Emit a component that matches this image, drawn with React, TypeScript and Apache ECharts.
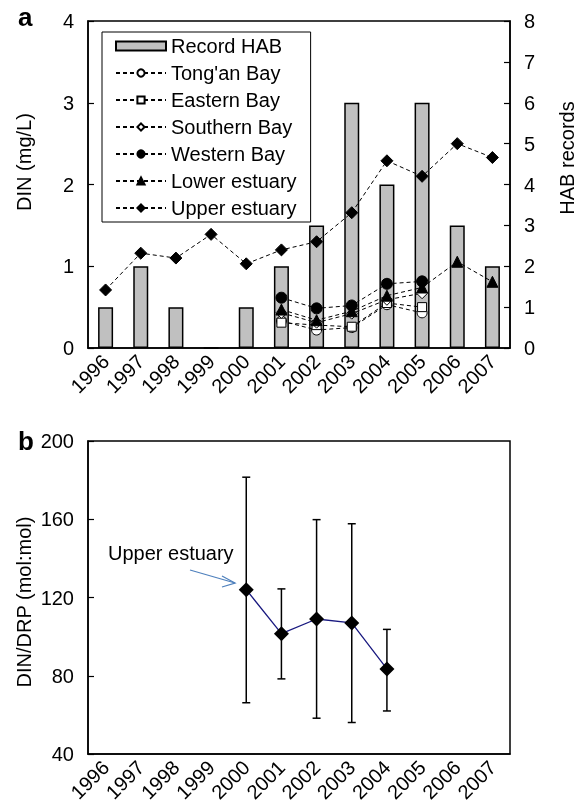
import React, { useEffect, useRef } from 'react';
import * as echarts from 'echarts';

const years = ['1996', '1997', '1998', '1999', '2000', '2001', '2002', '2003', '2004', '2005', '2006', '2007'];
const habRecords = [1, 2, 1, 0, 1, 2, 3, 6, 4, 6, 3, 2];
const tongan = [null, null, null, null, null, 0.33, 0.22, 0.25, 0.53, 0.43, null, null];
const eastern = [null, null, null, null, null, 0.31, 0.28, 0.26, 0.55, 0.5, null, null];
const southern = [null, null, null, null, null, 0.43, 0.31, 0.42, 0.59, 0.67, null, null];
const western = [null, null, null, null, null, 0.615, 0.485, 0.52, 0.785, 0.815, null, null];
const lower = [null, null, null, null, null, 0.47, 0.34, 0.45, 0.64, 0.74, 1.055, 0.81];
const upper = [0.71, 1.16, 1.1, 1.39, 1.03, 1.2, 1.3, 1.655, 2.29, 2.1, 2.5, 2.33];

const ratio = [null, null, null, null, 124, 101.5, 109, 107, 83.5, null, null, null];
const ratioHigh = [null, null, null, null, 181.5, 124.4, 159.8, 157.7, 103.7, null, null, null];
const ratioLow = [null, null, null, null, 66.2, 78.4, 58.3, 56.1, 62, null, null, null];

const dinTicks = [0, 4, 1];
const habTicks = [0, 8, 1];
const ratioTicks = [40, 200, 40];

const FONT = '"Liberation Sans", Arial, sans-serif';

function lineSeries(name: string, data: (number | null)[], symbol: string, size: number, filled: boolean) {
  return {
    name,
    type: 'line',
    xAxisIndex: 0,
    yAxisIndex: 0,
    data,
    symbol,
    symbolSize: size,
    connectNulls: false,
    lineStyle: { color: '#000', width: 1, type: [4, 3] },
    itemStyle: { color: filled ? '#000' : '#fff', borderColor: '#000', borderWidth: 1 },
    z: 3,
  };
}

function xAxisDef(gridIndex: number) {
  return {
    type: 'category',
    gridIndex,
    data: years,
    boundaryGap: true,
    axisLine: { lineStyle: { color: '#000', width: 1.5 } },
    axisTick: { inside: true, length: 6, lineStyle: { color: '#000', width: 1.2 } },
    axisLabel: { rotate: 45, interval: 0, fontSize: 20, margin: 10, color: '#000', fontFamily: FONT },
  };
}

function yAxisDef(gridIndex: number, t: number[], position: string) {
  return {
    type: 'value',
    gridIndex,
    position,
    min: t[0],
    max: t[1],
    interval: t[2],
    splitLine: { show: false },
    axisLine: { show: true, lineStyle: { color: '#000', width: 1.5 } },
    axisTick: { show: true, inside: true, length: 6, lineStyle: { color: '#000', width: 1.2 } },
    axisLabel: { fontSize: 20, margin: 14, color: '#000', fontFamily: FONT },
  };
}

export default function App() {
  const ref = useRef<HTMLDivElement>(null);
  useEffect(() => {
    const chart = echarts.init(ref.current!, null, { renderer: 'svg' });
    const errData = ratioLow
      .map((l, i) => (l == null ? null : [i, l, ratioHigh[i]]))
      .filter((d) => d !== null);
    const option: any = {
      animation: false,
      textStyle: { fontFamily: FONT },
      grid: [
        { left: 88, right: 75, top: 21, height: 327, show: true, borderColor: '#000', borderWidth: 1.5 },
        { left: 88, right: 75, top: 441, height: 313, show: true, borderColor: '#000', borderWidth: 1.5 },
      ],
      xAxis: [xAxisDef(0), xAxisDef(1)],
      yAxis: [yAxisDef(0, dinTicks, 'left'), yAxisDef(0, habTicks, 'right'), yAxisDef(1, ratioTicks, 'left')],
      legend: {
        orient: 'vertical',
        left: 102,
        top: 32,
        itemWidth: 50,
        itemHeight: 9,
        itemGap: 7,
        padding: [4, 14, 4, 13],
        borderColor: '#000',
        borderWidth: 1,
        backgroundColor: '#fff',
        textStyle: { fontSize: 20, color: '#000', fontFamily: FONT },
        data: [
          { name: 'Record HAB', icon: 'rect' },
          "Tong'an Bay",
          'Eastern Bay',
          'Southern Bay',
          'Western Bay',
          'Lower estuary',
          'Upper estuary',
        ],
      },
      series: [
        {
          name: 'Record HAB',
          type: 'bar',
          xAxisIndex: 0,
          yAxisIndex: 1,
          data: habRecords,
          barWidth: 15,
          itemStyle: { color: '#c0c0c0', borderColor: '#000', borderWidth: 1.5 },
          z: 2,
        },
        lineSeries("Tong'an Bay", tongan, 'circle', 10, false),
        lineSeries('Eastern Bay', eastern, 'rect', 9, false),
        lineSeries('Southern Bay', southern, 'diamond', 11, false),
        lineSeries('Western Bay', western, 'circle', 11, true),
        lineSeries('Lower estuary', lower, 'triangle', 11, true),
        lineSeries('Upper estuary', upper, 'diamond', 12, true),
        {
          name: 'DIN/DRP error',
          type: 'custom',
          xAxisIndex: 1,
          yAxisIndex: 2,
          data: errData,
          encode: { x: 0, y: [1, 2] },
          z: 2,
          renderItem: (params: any, api: any) => {
            const x = api.value(0);
            const lo = api.coord([x, api.value(1)]);
            const hi = api.coord([x, api.value(2)]);
            const w = 4;
            const st = { stroke: '#000', lineWidth: 1.5 };
            return {
              type: 'group',
              children: [
                { type: 'line', shape: { x1: lo[0], y1: lo[1], x2: hi[0], y2: hi[1] }, style: st },
                { type: 'line', shape: { x1: hi[0] - w, y1: hi[1], x2: hi[0] + w, y2: hi[1] }, style: st },
                { type: 'line', shape: { x1: lo[0] - w, y1: lo[1], x2: lo[0] + w, y2: lo[1] }, style: st },
              ],
            };
          },
        },
        {
          name: 'DIN/DRP',
          type: 'line',
          xAxisIndex: 1,
          yAxisIndex: 2,
          data: ratio,
          symbol: 'diamond',
          symbolSize: 15,
          itemStyle: { color: '#000' },
          lineStyle: { color: '#1a1a80', width: 1.3 },
          z: 4,
        },
      ],
      graphic: [
        { type: 'text', x: 18, y: 4, style: { text: 'a', fontSize: 26, fontWeight: 'bold', fontFamily: FONT, fill: '#000' } },
        { type: 'text', x: 18, y: 428, style: { text: 'b', fontSize: 26, fontWeight: 'bold', fontFamily: FONT, fill: '#000' } },
        {
          type: 'text', x: 24, y: 162, rotation: Math.PI / 2,
          style: { text: 'DIN (mg/L)', fontSize: 20, fontFamily: FONT, fill: '#000', align: 'center', verticalAlign: 'middle', textAlign: 'center', textVerticalAlign: 'middle' },
        },
        {
          type: 'text', x: 567, y: 158, rotation: Math.PI / 2,
          style: { text: 'HAB records', fontSize: 20, fontFamily: FONT, fill: '#000', align: 'center', verticalAlign: 'middle', textAlign: 'center', textVerticalAlign: 'middle' },
        },
        {
          type: 'text', x: 24, y: 602, rotation: Math.PI / 2,
          style: { text: 'DIN/DRP (mol:mol)', fontSize: 20, fontFamily: FONT, fill: '#000', align: 'center', verticalAlign: 'middle', textAlign: 'center', textVerticalAlign: 'middle' },
        },
        {
          type: 'text', x: 108, y: 553,
          style: { text: 'Upper estuary', fontSize: 20, fontFamily: FONT, fill: '#000', align: 'left', verticalAlign: 'middle', textAlign: 'left', textVerticalAlign: 'middle' },
        },
        { type: 'line', shape: { x1: 190, y1: 570, x2: 235, y2: 583 }, style: { stroke: '#4f81bd', lineWidth: 1.3 } },
        { type: 'polyline', shape: { points: [[222, 576], [235, 583], [222, 587]] }, style: { stroke: '#4f81bd', lineWidth: 1.3, fill: null } },
      ],
    };
    chart.setOption(option);
    return () => chart.dispose();
  }, []);
  return <div ref={ref} style={{ position: 'fixed', left: 0, top: 0, width: 585, height: 805 }} />;
}
